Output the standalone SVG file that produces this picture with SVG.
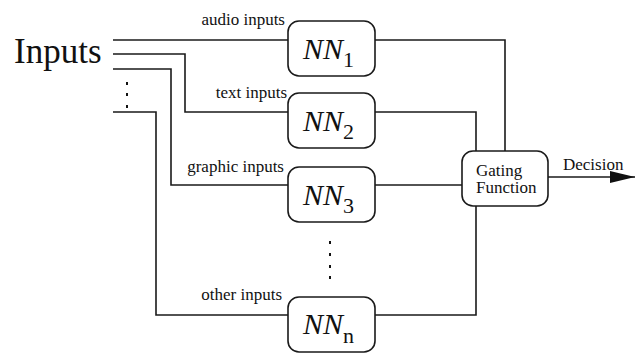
<svg xmlns="http://www.w3.org/2000/svg" width="635" height="354" viewBox="0 0 635 354">
<style>
.ln{fill:none;stroke:#1a1a1a;stroke-width:1.6}
.box{fill:#fff;stroke:#1a1a1a;stroke-width:1.6}
.lbl{font-family:"Liberation Serif","Times New Roman",serif;font-size:17px;fill:#111}
.nn{font-family:"Liberation Serif","Times New Roman",serif;font-size:30px;font-style:italic;fill:#111}
.sub{font-size:22px;font-style:normal}
.dot{fill:#111}
</style>
<defs>
<marker id="arr" viewBox="0 0 25 12" refX="25" refY="6" markerWidth="25" markerHeight="12" markerUnits="userSpaceOnUse" orient="auto">
<path d="M0,0 L25,6 L0,12 Z" fill="#111"/>
</marker>
</defs>
<rect width="635" height="354" fill="#fff"/>
<g id="connectors">
<path class="ln" d="M113,40 H288"/>
<path class="ln" d="M113,54 H185 V112 H288"/>
<path class="ln" d="M113,69 H171 V185 H288"/>
<path class="ln" d="M113,112 H156 V315 H288"/>
<path class="ln" d="M375,40 H505 V151"/>
<path class="ln" d="M375,112 H476 V151"/>
<path class="ln" d="M375,185 H462"/>
<path class="ln" d="M375,315 H476 V206"/>
<path class="ln" d="M548,177 H635" marker-end="url(#arr)"/>
</g>
<g id="inputs">
<text x="14" y="63" font-family="Liberation Serif, Times New Roman, serif" font-size="35" fill="#111">Inputs</text>
<rect class="dot" x="126" y="82" width="2" height="3"/>
<rect class="dot" x="126" y="93" width="2" height="3"/>
<rect class="dot" x="126" y="105" width="2" height="3"/>
</g>
<g id="labels">
<text class="lbl" x="285" y="25" text-anchor="end">audio inputs</text>
<text class="lbl" x="287" y="98" text-anchor="end">text inputs</text>
<text class="lbl" x="284" y="172" text-anchor="end">graphic inputs</text>
<text class="lbl" x="282" y="300" text-anchor="end">other inputs</text>
<text class="lbl" x="563" y="170">Decision</text>
</g>
<g id="nn1">
<rect class="box" x="288" y="21" width="87" height="55" rx="11"/>
<text class="nn" x="303" y="59">NN<tspan class="sub" dy="8">1</tspan></text>
</g>
<g id="nn2">
<rect class="box" x="288" y="93" width="87" height="55" rx="11"/>
<text class="nn" x="303" y="131">NN<tspan class="sub" dy="8">2</tspan></text>
</g>
<g id="nn3">
<rect class="box" x="288" y="167" width="87" height="55" rx="11"/>
<text class="nn" x="303" y="205">NN<tspan class="sub" dy="8">3</tspan></text>
</g>
<g id="vdots">
<rect class="dot" x="329" y="241" width="2" height="3"/>
<rect class="dot" x="329" y="253" width="2" height="3"/>
<rect class="dot" x="329" y="265" width="2" height="3"/>
<rect class="dot" x="329" y="276" width="2" height="3"/>
</g>
<g id="nnn">
<rect class="box" x="288" y="297" width="87" height="55" rx="11"/>
<text class="nn" x="303" y="334">NN<tspan class="sub" dy="9">n</tspan></text>
</g>
<g id="gating">
<rect class="box" x="462" y="151" width="86" height="55" rx="11"/>
<text class="lbl" x="476" y="176">Gating</text>
<text class="lbl" x="476" y="193">Function</text>
</g>
</svg>
